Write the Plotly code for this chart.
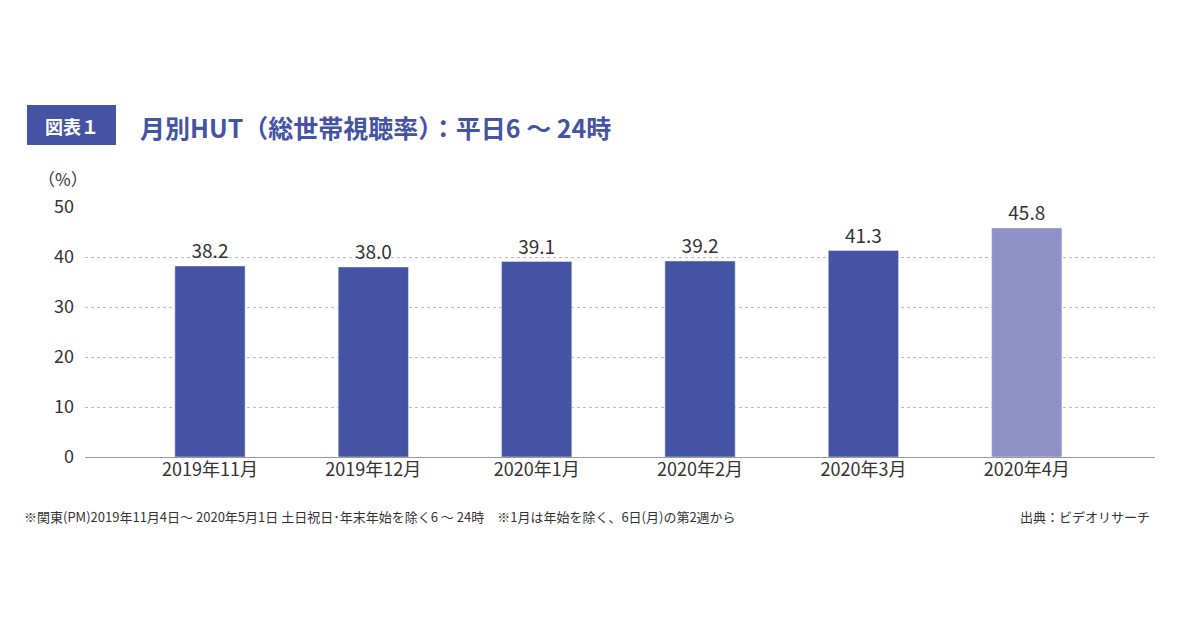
import plotly.graph_objects as go

categories = ["2019年11月", "2019年12月", "2020年1月", "2020年2月", "2020年3月", "2020年4月"]
values = [38.2, 38.0, 39.1, 39.2, 41.3, 45.8]
labels = ["38.2", "38.0", "39.1", "39.2", "41.3", "45.8"]
colors = ["#4453a3"] * 5 + ["#8f90c6"]

font = "Noto Sans CJK JP"
fig = go.Figure(go.Bar(
    x=categories, y=values, marker_color=colors, width=0.43,
    text=labels, textposition="outside", cliponaxis=False,
    textfont=dict(size=19, color="#333333", family=font),
))
fig.update_layout(
    width=1200, height=630, paper_bgcolor="white", plot_bgcolor="white",
    margin=dict(l=77, r=53, t=199, b=181), showlegend=False,
    font=dict(family=font, color="#333333"),
    xaxis=dict(range=[-0.765, 5.785], showline=False, ticks="", showgrid=False,
               tickfont=dict(size=18, color="#333333")),
    yaxis=dict(range=[0, 50], tickvals=[0, 10, 20, 30, 40, 50], showline=False,
               gridcolor="#bbbbbb", griddash="dot", zeroline=True, zerolinecolor="#999999",
               zerolinewidth=1, tickfont=dict(size=18, color="#333333"), ticklabelstandoff=10),
)
def px(x): return (x - 85) / 1070
def py(y): return (457 - y) / 250
fig.add_shape(type="rect", xref="paper", yref="paper", x0=px(27), x1=px(116),
              y0=py(145), y1=py(105), fillcolor="#4453a3", line_width=0)
fig.add_annotation(xref="paper", yref="paper", x=px(71.5), y=py(126), xanchor="center", yanchor="middle",
                   text="<b>図表１</b>", showarrow=False, font=dict(size=18, color="white", family=font))
fig.add_annotation(xref="paper", yref="paper", x=px(138), y=py(127), xanchor="left", yanchor="middle",
                   text="<b>月別HUT（総世帯視聴率）：平日6 〜 24時</b>", showarrow=False,
                   font=dict(size=25, color="#4453a3", family=font))
fig.add_annotation(xref="paper", yref="paper", x=px(36), y=py(179), xanchor="left", yanchor="middle",
                   text="（%）", showarrow=False, font=dict(size=17, color="#333333", family=font))
fig.add_annotation(xref="paper", yref="paper", x=px(22), y=py(516), xanchor="left", yanchor="middle",
                   text="※関東(PM)2019年11月4日〜 2020年5月1日 土日祝日･年末年始を除く6 〜 24時　※1月は年始を除く、6日(月)の第2週から",
                   showarrow=False, font=dict(size=13, color="#333333", family=font))
fig.add_annotation(xref="paper", yref="paper", x=px(1152), y=py(516), xanchor="right", yanchor="middle",
                   text="出典：ビデオリサーチ", showarrow=False, font=dict(size=13, color="#333333", family=font))
fig.write_html("out.html")
